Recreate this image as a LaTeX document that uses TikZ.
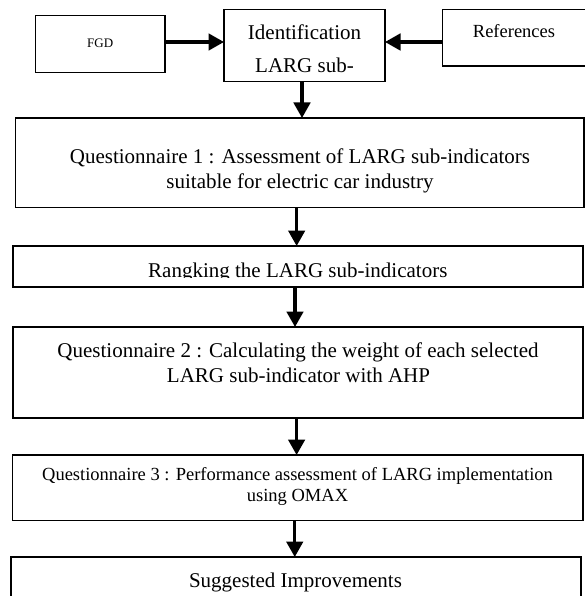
\documentclass[tikz,border=0pt]{standalone}
\usepackage{fontspec}
\setmainfont{Liberation Serif}
\usetikzlibrary{arrows.meta}
\tikzset{
  box/.style={draw=black, line width=1.1pt, inner sep=0pt, outer sep=0pt},
  arr/.style={line width=3.2pt, -{Triangle[length=15.5pt,width=16.5pt]}},
  big/.style={anchor=base, inner sep=0pt, font=\fontsize{21}{25}\selectfont},
  mid/.style={anchor=base, inner sep=0pt, font=\fontsize{18.5}{22}\selectfont},
  small/.style={anchor=base, inner sep=0pt, font=\fontsize{13}{15}\selectfont},
}
\begin{document}
\begin{tikzpicture}[x=1pt,y=-1pt]
\useasboundingbox (0,0) rectangle (585,596);
\clip (0,0) rectangle (585,596);
% boxes
\node[box, minimum width=129.5pt, minimum height=56.8pt] (fgd) at (100.25,44.1) {};
\node[box, minimum width=161pt, minimum height=72.2pt] (ident) at (304.5,45.4) {};
\node[box, minimum width=147.3pt, minimum height=56.7pt] (ref) at (516.35,37.65) {};
\node[box, minimum width=568.3pt, minimum height=89.5pt] (q1) at (299.85,162.75) {};
\node[box, minimum width=570pt, minimum height=41pt] (rank) at (298,266.5) {};
\node[box, minimum width=570pt, minimum height=91pt] (q2) at (298,372.5) {};
\node[box, minimum width=570.5pt, minimum height=65.7pt] (q3) at (297.75,487.85) {};
\node[box, minimum width=570pt, minimum height=53pt] (sug) at (296,583.5) {};
% texts
\node[small] (tfgd) at (100.25,47.7) {FGD};
\node[big] (tid1) at (304.5,40) {Identification};
\node[big] (tid2) at (304.5,72.7) {LARG sub-};
\node[mid] (tref) at (514,38) {References};
\node[big] (tq1a) at (300,163.5) {Questionnaire 1 : Assessment of LARG sub-indicators};
\node[big] (tq1b) at (300,188.5) {suitable for electric car industry};
\begin{scope}
\clip (rank.north west) rectangle ([yshift=-10.5pt]rank.east);
\node[big] (trank) at (297.8,277) {Rangking the LARG sub-indicators};
\end{scope}
\node[big] (tq2a) at (298,357.5) {Questionnaire 2 : Calculating the weight of each selected};
\node[big] (tq2b) at (298.5,382.5) {LARG sub-indicator with AHP};
\node[mid] (tq3a) at (297.5,480) {Questionnaire 3 : Performance assessment of LARG implementation};
\node[mid] (tq3b) at (297.5,501.7) {using OMAX};
\node[big] (tsug) at (295.5,587) {Suggested Improvements};
% connectors
\draw[arr] ([yshift=2.1pt]fgd.east) -- ([yshift=2.1pt]fgd.east -| ident.west);
\draw[arr] ([yshift=-4.35pt]ref.west) -- ([yshift=-4.35pt]ref.west -| ident.east);
\draw[arr] ([xshift=-2.5pt]ident.south) -- ([xshift=-2.5pt]ident.south |- q1.north);
\draw[arr] ([xshift=-3.2pt]q1.south) -- ([xshift=-3.2pt]q1.south |- rank.north);
\draw[arr] ([xshift=-3pt]rank.south) -- ([xshift=-3pt]rank.south |- q2.north);
\draw[arr] ([xshift=-1.4pt]q2.south) -- ([xshift=-1.4pt]q2.south |- q3.north);
\draw[arr] ([xshift=-3pt]q3.south) -- ([xshift=-3pt]q3.south |- sug.north);
\end{tikzpicture}
\end{document}
